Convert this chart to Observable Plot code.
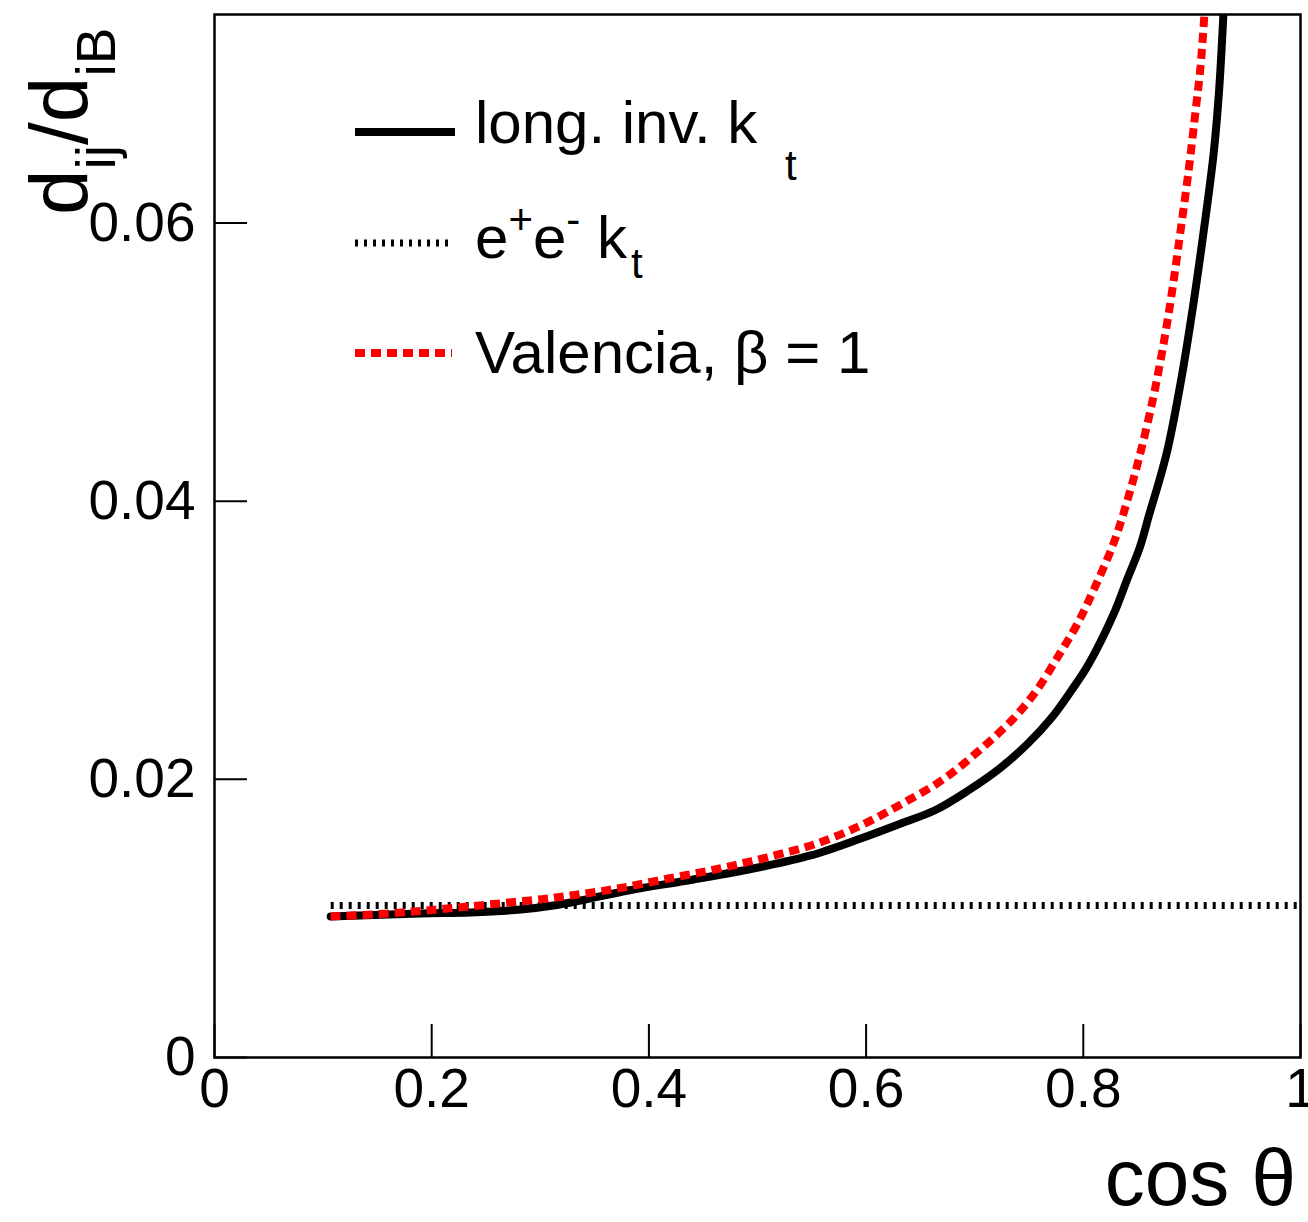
<!DOCTYPE html>
<html>
<head>
<meta charset="utf-8">
<script src="https://cdn.jsdelivr.net/npm/d3@7"></script>
<script src="https://cdn.jsdelivr.net/npm/@observablehq/plot@0.6"></script>
<style>
  html, body { margin: 0; padding: 0; background: white; }
  #chart { width: 1308px; height: 1222px; }
</style>
</head>
<body>
<div id="chart"></div>
<script>
// ---- data ----
const longInvX = [0.107, 0.190, 0.236, 0.282, 0.312, 0.337, 0.381, 0.441, 0.503, 0.549, 0.595, 0.632, 0.663, 0.694, 0.724, 0.749, 0.771, 0.789, 0.805, 0.828, 0.840, 0.852, 0.861, 0.870, 0.878, 0.890, 0.901, 0.911, 0.920, 0.925, 0.929];
const longInvY = [0.01014, 0.01035, 0.01043, 0.01064, 0.01093, 0.01129, 0.01201, 0.01280, 0.01370, 0.01453, 0.01575, 0.01683, 0.01776, 0.01920, 0.02085, 0.02258, 0.02445, 0.02639, 0.0283, 0.0319, 0.0343, 0.03667, 0.03912, 0.04149, 0.04386, 0.04868, 0.0540, 0.0595, 0.0650, 0.0695, 0.0750];

const valenciaX = [0.107, 0.159, 0.206, 0.252, 0.303, 0.328, 0.371, 0.418, 0.465, 0.508, 0.552, 0.595, 0.632, 0.671, 0.706, 0.736, 0.757, 0.778, 0.794, 0.810, 0.828, 0.840, 0.852, 0.864, 0.872, 0.878, 0.884, 0.890, 0.897, 0.903, 0.908, 0.9115];
const valenciaY = [0.01014, 0.01035, 0.01065, 0.0110, 0.01140, 0.01165, 0.01215, 0.01287, 0.01359, 0.01438, 0.01532, 0.01668, 0.0182, 0.0200, 0.0222, 0.0244, 0.0264, 0.0290, 0.0311, 0.0337, 0.0370, 0.0399, 0.0433, 0.0473, 0.0505, 0.0532, 0.0563, 0.0597, 0.0638, 0.0678, 0.0713, 0.0750];

const eeKtX = [0.107, 1.0];
const eeKtY = [0.01093, 0.01093];

const xTicks = [0, 0.2, 0.4, 0.6, 0.8, 1];
const yTicks = [0, 0.02, 0.04, 0.06];
const xDomain = [0, 1];
const yDomain = [0, 0.075];

const longInv = longInvX.map((x, i) => ({x, y: longInvY[i]}));
const valencia = valenciaX.map((x, i) => ({x, y: valenciaY[i]}));
const eeKt = eeKtX.map((x, i) => ({x, y: eeKtY[i]}));

// ---- layout ----
const W = 1308, H = 1222;
const mL = 214, mR = 8, mT = 14, mB = 165;
const frameW = W - mL - mR, frameH = H - mT - mB;
const tickLen = 33;

const chart = Plot.plot({
  width: W,
  height: H,
  marginLeft: mL,
  marginRight: mR,
  marginTop: mT,
  marginBottom: mB,
  style: {fontFamily: "'Liberation Sans', Arial, Helvetica, sans-serif", fontSize: "55px", background: "white", color: "black"},
  x: {domain: xDomain, label: null},
  y: {domain: yDomain, label: null},
  marks: [
    Plot.axisX({ticks: xTicks, tickSize: 0, tickPadding: 10, fontSize: 55, tickFormat: d => String(d), label: null}),
    Plot.axisY({ticks: yTicks, tickSize: 0, tickPadding: 19, fontSize: 55, tickFormat: d => d === 0 ? "0" : d.toFixed(2), label: null}),
    Plot.ruleX(xTicks, {x: d => d, insetTop: frameH - tickLen, stroke: "black", strokeWidth: 2}),
    Plot.ruleY(yTicks, {y: d => d, insetRight: frameW - tickLen, stroke: "black", strokeWidth: 2}),
    Plot.line(eeKt, {x: "x", y: "y", stroke: "black", strokeWidth: 7, strokeDasharray: "3,6", strokeLinecap: "butt", clip: true}),
    Plot.line(longInv, {x: "x", y: "y", stroke: "black", strokeWidth: 8, curve: "catmull-rom", clip: true}),
    Plot.line(valencia, {x: "x", y: "y", stroke: "#ff0000", strokeWidth: 8, strokeDasharray: "10,6", strokeLinecap: "butt", strokeLinejoin: "miter", curve: "catmull-rom", clip: true}),
    Plot.frame({stroke: "black", strokeWidth: 2.5})
  ]
});

document.getElementById("chart").appendChild(chart);

// ---- annotations: axis titles and legend ----
const svg = d3.select(chart);
const font = "'Liberation Sans', Arial, Helvetica, sans-serif";

// x title: cos θ
svg.append("text")
  .attr("x", 1296).attr("y", 1205)
  .attr("text-anchor", "end")
  .attr("font-family", font).attr("font-size", 80).attr("fill", "black")
  .text("cos θ");

// y title: d_ij / d_iB (rotated)
const yt = svg.append("text")
  .attr("transform", "translate(87,215) rotate(-90)")
  .attr("text-anchor", "start")
  .attr("font-family", font).attr("font-size", 82).attr("fill", "black");
yt.append("tspan").text("d");
yt.append("tspan").attr("font-size", 55).attr("dy", 28).text("ij");
yt.append("tspan").attr("dy", -28).text("/d");
yt.append("tspan").attr("font-size", 55).attr("dy", 28).text("iB");

// legend
const leg = svg.append("g").attr("text-anchor", "start");
leg.append("line").attr("x1", 355).attr("x2", 455).attr("y1", 132).attr("y2", 132)
  .attr("stroke", "black").attr("stroke-width", 8);
leg.append("line").attr("x1", 355).attr("x2", 452).attr("y1", 243).attr("y2", 243)
  .attr("stroke", "black").attr("stroke-width", 7).attr("stroke-dasharray", "3,6");
leg.append("line").attr("x1", 355).attr("x2", 452).attr("y1", 353).attr("y2", 353)
  .attr("stroke", "#ff0000").attr("stroke-width", 8).attr("stroke-dasharray", "10,6");

const t1 = leg.append("text").attr("text-anchor", "start").attr("font-family", font).attr("font-size", 60).attr("fill", "black");
t1.append("tspan").attr("x", 475).attr("y", 143).text("long. inv. k");
t1.append("tspan").attr("x", 785).attr("y", 180).attr("font-size", 42).text("t");

const t2 = leg.append("text").attr("text-anchor", "start").attr("font-family", font).attr("font-size", 60).attr("fill", "black")
  .attr("x", 475).attr("y", 258);
t2.append("tspan").text("e");
t2.append("tspan").attr("font-size", 42).attr("dy", -24).text("+");
t2.append("tspan").attr("dy", 24).text("e");
t2.append("tspan").attr("font-size", 42).attr("dy", -24).text("-");
t2.append("tspan").attr("dy", 24).text(" k");
t2.append("tspan").attr("font-size", 42).attr("dy", 20).attr("dx", 4).text("t");

leg.append("text").attr("text-anchor", "start").attr("font-family", font).attr("font-size", 60).attr("fill", "black")
  .attr("x", 475).attr("y", 373).text("Valencia, β = 1");
</script>
</body>
</html>
